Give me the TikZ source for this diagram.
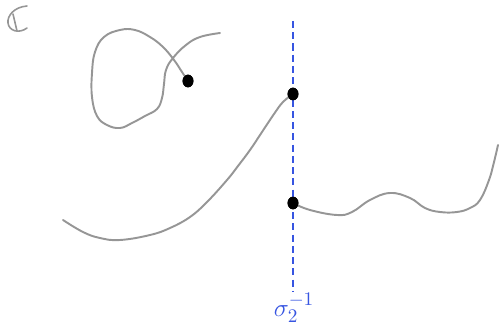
\documentclass[tikz,border=0pt]{standalone}
\usetikzlibrary{shapes.geometric}
\definecolor{pen}{RGB}{150,150,150}
\definecolor{bluepen}{RGB}{55,85,225}
\begin{document}
\begin{tikzpicture}[x=0.02cm,y=-0.02cm,
  strand/.style={draw=pen,line width=1.1pt,line cap=round,line join=round},
  pt/.style={ellipse,fill=black,inner sep=0pt,minimum width=6.2pt,minimum height=7.2pt},
  cut/.style={draw=bluepen,line width=1.1pt,dash pattern=on 4pt off 2.4pt}]
\useasboundingbox (0,0) rectangle (500,324);
% C symbol (hand drawn)
\draw[strand,line width=0.9pt] (27,6) .. controls (14,7) and (7,16) .. (8,23) .. controls (9,31) and (19,34) .. (27,28);
\draw[strand,line width=0.9pt] (13,14) -- (17,31);
% points
\node[pt] (p1) at (188,81) {};
\node[pt] (p2) at (293,94) {};
\node[pt] (p3) at (293,203) {};
% cut line
\coordinate (top) at (293,21);
\coordinate (bot) at (293,291);
\node[text=bluepen,font=\fontsize{15}{18}\selectfont,inner sep=0pt] (lab) at (294,308) {$\sigma_2^{-1}$};
\draw[cut] (top) -- (bot);
% strand 1 with loop
\draw[strand] plot[smooth,tension=0.7] coordinates {(220,33) (200,37) (186,45) (173,58) (166,70) (164,84) (162,98) (157,109) (145,116) (132,123) (120,128) (107,125) (97,116) (92,97) (92,73) (95,52) (104,37) (120,30) (135,30) (150,37) (163,47) (174,60) (182,72) (p1.center)};
% strand 2
\draw[strand] plot[smooth,tension=0.7] coordinates {(p2.center) (283,102) (274,114) (262,132) (250,150) (238,166) (227,180) (207,202) (190,217) (170,228) (150,235) (120,240) (100,238) (83,232) (63,220)};
% strand 3
\draw[strand] plot[smooth,tension=0.7] coordinates {(p3.center) (310,210) (337,215) (352,212) (370,200) (390,193) (410,198) (425,208) (440,212) (457,212) (470,208) (480,200) (489,180) (494,162) (498,145)};
\node[pt] at (p1) {};
\node[pt] at (p2) {};
\node[pt] at (p3) {};
\end{tikzpicture}
\end{document}
